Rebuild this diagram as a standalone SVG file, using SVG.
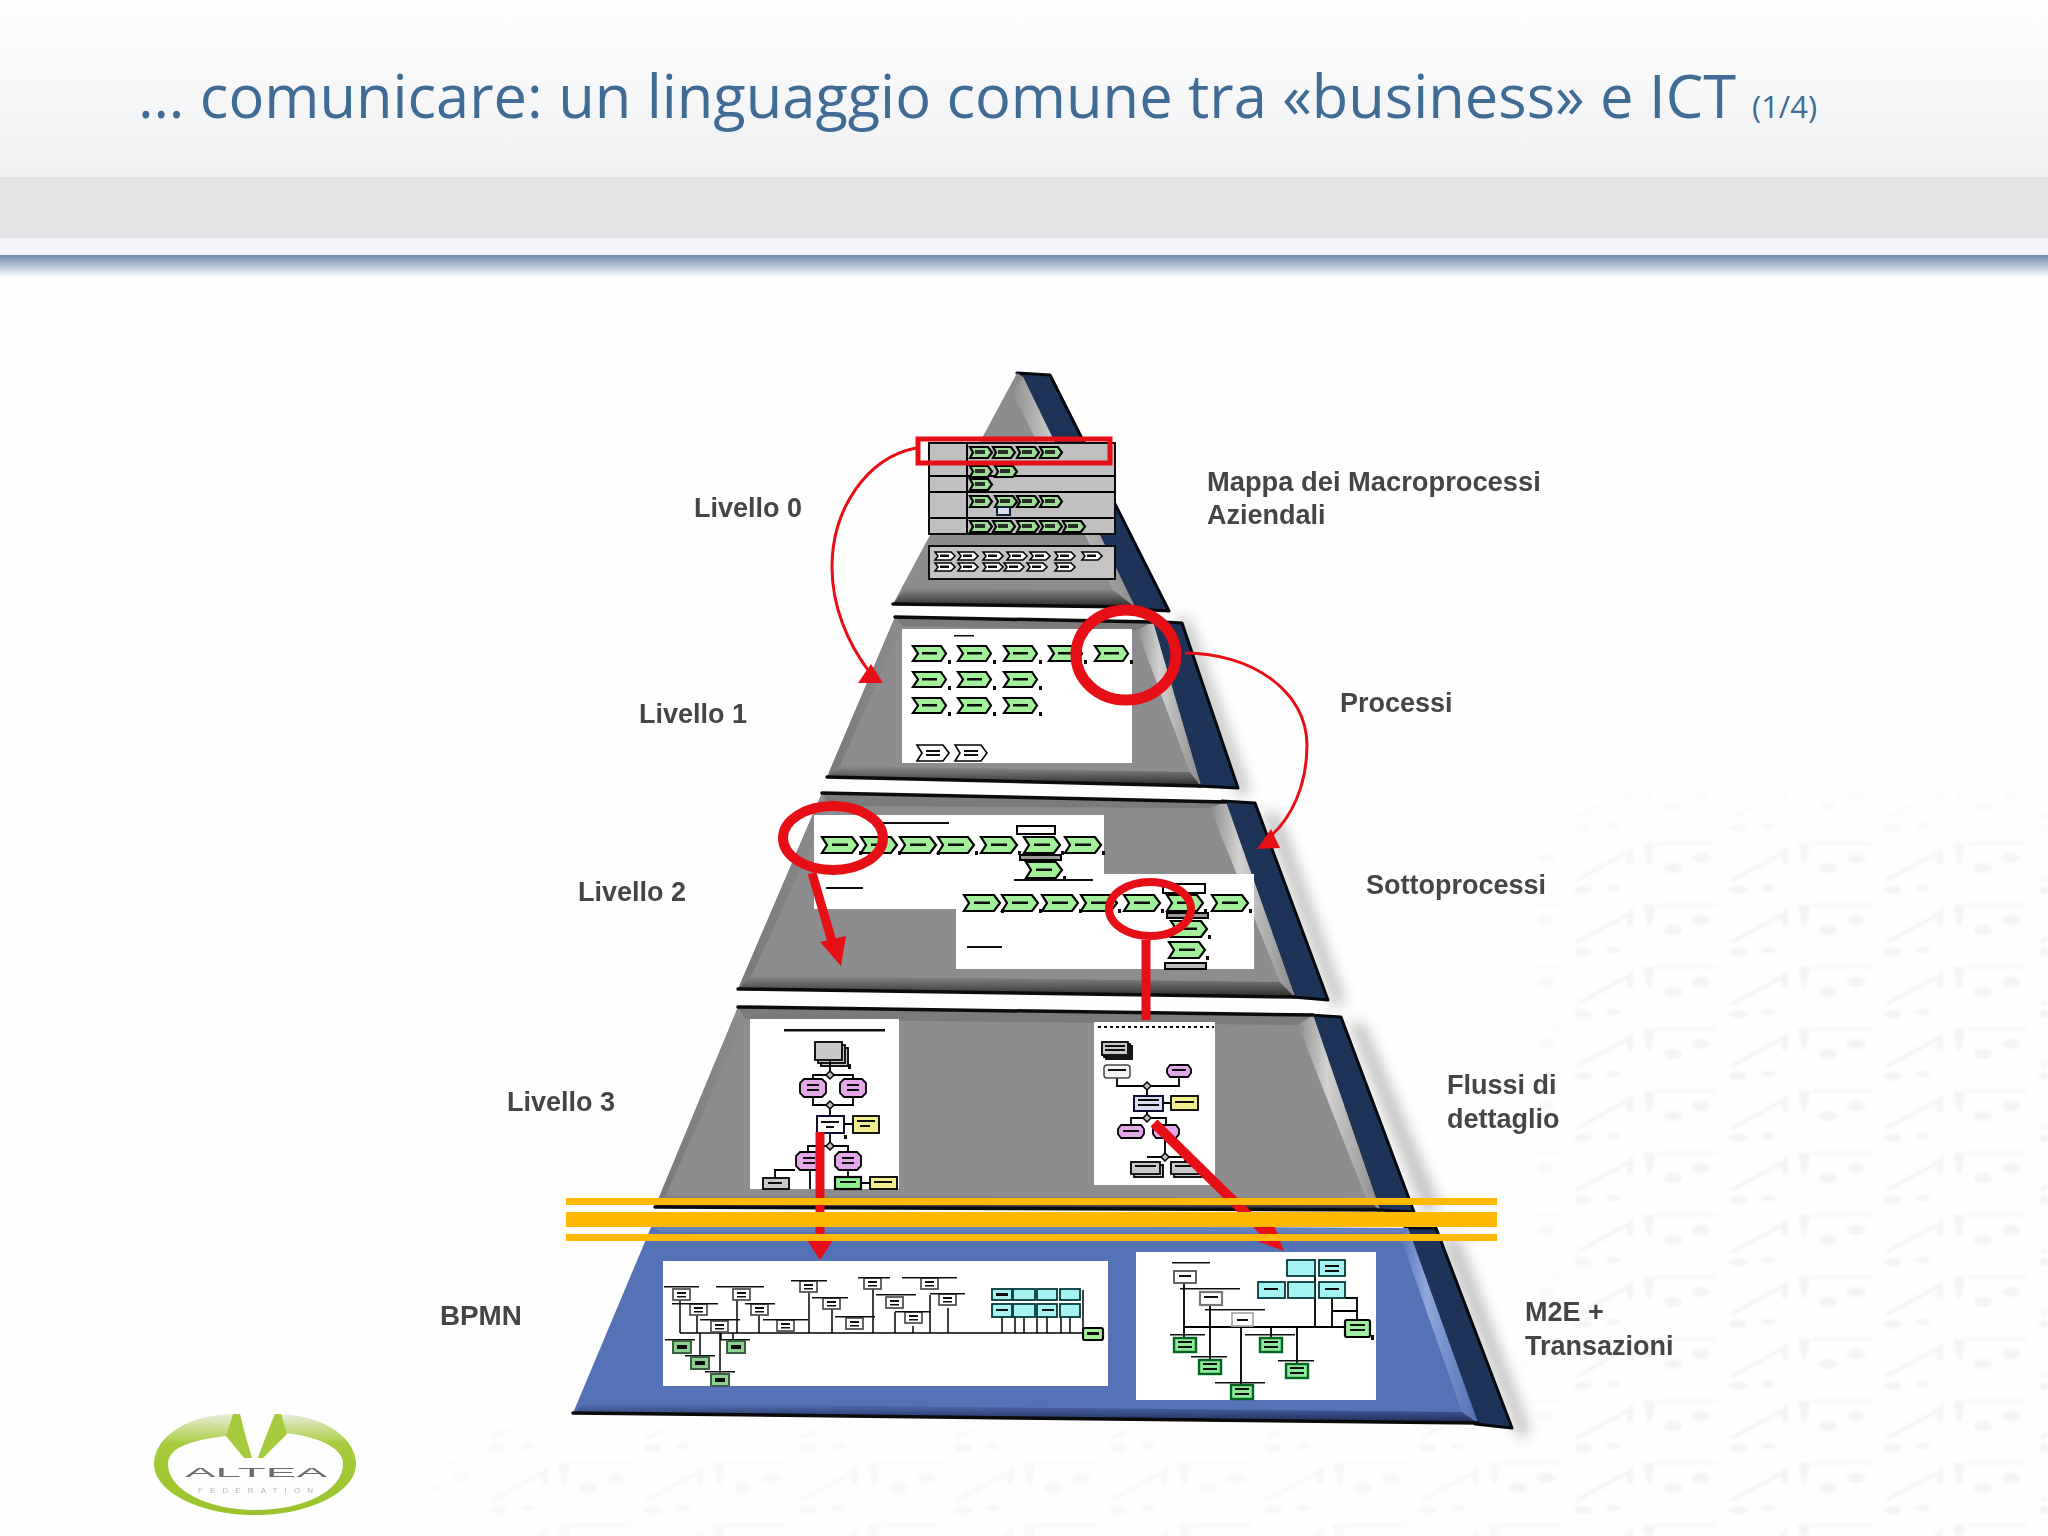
<svg xmlns="http://www.w3.org/2000/svg" width="2048" height="1536" viewBox="0 0 2048 1536">
<style>
.lab{font-family:"Liberation Sans",Arial,sans-serif;font-weight:700;font-size:27px;fill:#454545}
.ttl{font-family:"Open Sans","Noto Sans",sans-serif;fill:#3f6b94}
.dk{fill:#1e3358;stroke:#06080f;stroke-width:3;stroke-linejoin:round}
.bevB{fill:url(#gB)}.bevL{fill:url(#gL)}.bevT{fill:#7b7b7d}.bevR{fill:url(#gR)}
.face{fill:#8d8d8f}
.edge{fill:none;stroke:#0b0b0b;stroke-width:3.500;stroke-linejoin:round;stroke-linecap:round}
.w{fill:#fff}
.g{fill:#a2f09a;stroke:#000;stroke-width:2.200}
.gw{fill:#fff;stroke:#000;stroke-width:1.600}
.p{fill:#e3a8e8;stroke:#000;stroke-width:1.800}
.y{fill:#f3ef90;stroke:#000;stroke-width:1.800}
.gy{fill:#c8c8c8;stroke:#000;stroke-width:1.800}
.c{fill:#a6f3f3;stroke:#063a3a;stroke-width:1.800}
.n{fill:#fff;stroke:#555;stroke-width:1.800}
.l{fill:none;stroke:#000;stroke-width:1.800}
.d{fill:#111}
.red{fill:none;stroke:#e60f16;stroke-linecap:butt}
.rf{fill:#e60f16}
.yl{fill:#ffb900}
</style>
<defs>
<linearGradient id="gH" x1="0" y1="0" x2="0" y2="1"><stop offset="0" stop-color="#fefefe"/><stop offset="1" stop-color="#eff0f2"/></linearGradient>
<linearGradient id="gS" x1="0" y1="0" x2="0" y2="1"><stop offset="0" stop-color="#6f8aab"/><stop offset="1" stop-color="#f4f7f9"/></linearGradient>
<linearGradient id="gB" x1="0" y1="0" x2="0" y2="1"><stop offset="0" stop-color="#8d8d8f"/><stop offset="1" stop-color="#2a2a2a"/></linearGradient>
<linearGradient id="gL" x1="1" y1="0" x2="0" y2="0"><stop offset="0" stop-color="#8d8d8f"/><stop offset="1" stop-color="#787878"/></linearGradient>
<linearGradient id="gR" x1="0" y1="0" x2="1" y2="0"><stop offset="0" stop-color="#8d8d8f"/><stop offset=".35" stop-color="#d2d2d2"/><stop offset="1" stop-color="#8a8a8c"/></linearGradient>
<linearGradient id="gBb" x1="0" y1="0" x2="0" y2="1"><stop offset="0" stop-color="#5472b6"/><stop offset="1" stop-color="#1b2a55"/></linearGradient>
<linearGradient id="gRb" x1="0" y1="0" x2="1" y2="0"><stop offset="0" stop-color="#5472b6"/><stop offset=".35" stop-color="#8fa8dc"/><stop offset="1" stop-color="#4f6db0"/></linearGradient>
<linearGradient id="gLogo" x1="0" y1="0" x2="0" y2="1"><stop offset="0" stop-color="#e9edd9"/><stop offset=".3" stop-color="#a6cb3c"/><stop offset="1" stop-color="#9cc32c"/></linearGradient>
<linearGradient id="fL" x1="0" y1="0" x2="1" y2="0"><stop offset="0" stop-color="#fefefe"/><stop offset="1" stop-color="#fefefe" stop-opacity="0"/></linearGradient>
<linearGradient id="fT" x1="0" y1="0" x2="0" y2="1"><stop offset="0" stop-color="#fefefe"/><stop offset="1" stop-color="#fefefe" stop-opacity="0"/></linearGradient>
<filter id="sh" x="-20%" y="-20%" width="140%" height="140%"><feGaussianBlur stdDeviation="7"/></filter>
<filter id="sf" x="-5%" y="-5%" width="110%" height="110%"><feGaussianBlur stdDeviation="0.7"/></filter>
<filter id="wm" x="-5%" y="-5%" width="110%" height="110%"><feGaussianBlur stdDeviation="1.600"/></filter>
<pattern id="wmk" x="1573" y="1028" width="155" height="62" patternUnits="userSpaceOnUse">
<g fill="#f3f3f4" stroke="none">
<path d="M2 37L56 8L60 3V22L54 22L54 13L4 40Z"/><path d="M70 1H82L78 22H75Z"/><rect x="84" y="0" width="60" height="2"/>
<ellipse cx="100" cy="26" rx="9" ry="5"/><ellipse cx="128" cy="16" rx="9" ry="5"/><ellipse cx="10" cy="48" rx="9" ry="4"/><ellipse cx="40" cy="46" rx="7" ry="3"/>
</g></pattern>
<g id="ch"><path d="M0 0H28L33 7.5L28 15H0L5 7.5Z" class="g"/><rect x="9" y="6" width="15" height="2.500" class="d"/><rect x="35" y="14" width="3" height="4" class="d"/></g>
<g id="chw"><path d="M0 0H26L32 8L26 16H0L5 8Z" class="gw"/><rect x="9" y="5" width="14" height="2" class="d"/><rect x="9" y="9" width="14" height="2" class="d"/></g>
<g id="cs"><path d="M0 0H18L22 5.500L18 11H0L3 5.500Z" class="g" style="fill:#9fdc98;stroke-width:2.200"/><rect x="5" y="3" width="10" height="4" class="d" opacity=".85"/></g>
<g id="ws"><path d="M0 0H16L20 4L16 8H0L3 4Z" class="gw"/><rect x="5" y="2.500" width="9" height="2.500" class="d"/></g>
<g id="cl"><path d="M0 0H30L36 8L30 16H0L5 8Z" class="g"/><rect x="10" y="6.500" width="16" height="2.500" class="d"/><rect x="37" y="14" width="3" height="4" class="d"/></g>
<g id="hex"><path d="M4 0H22L26 4V14L22 18H4L0 14V4Z" class="p"/><rect x="7" y="5" width="12" height="2" class="d"/><rect x="7" y="10" width="12" height="2" class="d"/></g>
<g id="dm"><path d="M0 -4L4 0L0 4L-4 0Z" fill="#bbb" stroke="#000" stroke-width="1.500"/></g>
<g id="bb"><rect x="0" y="0" width="17" height="11" class="n"/><rect x="4" y="3" width="9" height="2" class="d"/><rect x="4" y="7" width="9" height="1.500" class="d"/></g>
<g id="gb"><rect x="0" y="0" width="18" height="12" fill="#8ccf90" stroke="#3b5f45" stroke-width="2"/><rect x="4" y="4" width="10" height="4" class="d"/></g>
<g id="gc"><rect x="0" y="0" width="22" height="14" fill="#8ee99a" stroke="#062" stroke-width="2.400"/><rect x="4" y="3" width="14" height="2" class="d"/><rect x="4" y="8" width="14" height="2" class="d"/></g>
</defs>

<rect id="background" width="2048" height="1536" fill="#fefefe"/>
<g id="watermark">
<g filter="url(#wm)">
<rect x="1500" y="770" width="548" height="766" fill="url(#wmk)"/>
<rect x="380" y="1430" width="1120" height="106" fill="url(#wmk)" opacity=".7"/>
</g>
<rect x="1500" y="770" width="548" height="110" fill="url(#fT)"/>
<rect x="1500" y="770" width="100" height="660" fill="url(#fL)"/>
<rect x="380" y="1430" width="160" height="106" fill="url(#fL)"/>
</g>

<g id="header">
<rect x="0" y="0" width="2048" height="177" fill="url(#gH)"/>
<rect x="0" y="177" width="2048" height="61" fill="#e2e4e6"/>
<rect x="0" y="238" width="2048" height="17" fill="#f2f3f6"/>
<rect x="0" y="255" width="2048" height="21" fill="url(#gS)"/>
<text class="ttl" x="138" y="118" font-size="59.600">… comunicare: un linguaggio comune tra «business» e ICT</text>
<text class="ttl" x="1752" y="118" font-size="31">(1/4)</text>
</g>

<g id="shadows" filter="url(#sh)" fill="#9a9a9a" opacity=".6">
<polygon points="1175,615 1190,620 1250,790 1240,800"/>
<polygon points="1262,810 1280,815 1345,1000 1335,1010"/>
<polygon points="1348,1020 1365,1025 1440,1205 1425,1215"/>
<polygon points="1440,1235 1460,1240 1530,1430 1520,1440"/>
</g>

<g id="tier-0">
<polygon class="dk" points="1017,373 1050,375 1169,611 1130,609"/>
<polygon class="face" points="1017,373 1023,377 1135,607 893,604"/>
<polygon class="bevB" points="905,588 1115,590 1135,607 893,604"/>
<polygon class="bevR" points="1012,393 1023,377 1135,607 1113,590"/>
<path class="edge" d="M893 604L1135 607"/>
<g filter="url(#sf)">
<rect x="929" y="443" width="186" height="91" fill="#c0c0c0" stroke="#111" stroke-width="2"/>
<path class="l" d="M967 443V534M929 476H1115M929 492H1115M929 518H1115" style="stroke-width:2"/>
<use href="#cs" x="970" y="447"/><use href="#cs" x="993" y="447"/><use href="#cs" x="1017" y="447"/><use href="#cs" x="1040" y="447"/>
<use href="#cs" x="970" y="466"/><use href="#cs" x="995" y="466"/>
<use href="#cs" x="970" y="479"/>
<use href="#cs" x="970" y="496"/><use href="#cs" x="995" y="496"/><use href="#cs" x="1017" y="496"/><use href="#cs" x="1040" y="496"/>
<rect x="997" y="507" width="13" height="8" fill="#dde" stroke="#123" stroke-width="2"/>
<use href="#cs" x="970" y="521"/><use href="#cs" x="993" y="521"/><use href="#cs" x="1017" y="521"/><use href="#cs" x="1040" y="521"/><use href="#cs" x="1063" y="521"/>
<rect x="929" y="546" width="186" height="33" fill="#c4c4c4" stroke="#111" stroke-width="2"/>
<use href="#ws" x="935" y="552"/><use href="#ws" x="958" y="552"/><use href="#ws" x="983" y="552"/><use href="#ws" x="1007" y="552"/><use href="#ws" x="1030" y="552"/><use href="#ws" x="1055" y="552"/><use href="#ws" x="1082" y="552"/>
<use href="#ws" x="935" y="563"/><use href="#ws" x="958" y="563"/><use href="#ws" x="983" y="563"/><use href="#ws" x="1004" y="563"/><use href="#ws" x="1027" y="563"/><use href="#ws" x="1055" y="563"/>
</g>
</g>

<g id="tier-1">
<polygon class="dk" points="1150,621 1182,623 1238,788 1198,786"/>
<polygon class="face" points="895,617 1153,622 1201,786 827,777"/>
<polygon class="bevT" points="895,617 1153,622 1137,630 902,626"/>
<polygon class="bevL" points="895,617 902,626 840,766 827,777"/>
<polygon class="bevB" points="840,766 1190,772 1201,786 827,777"/>
<polygon class="bevR" points="1137,630 1153,622 1201,786 1190,772"/>
<path class="edge" d="M895 617L1153 622M827 777L1201 786"/>
<g filter="url(#sf)">
<rect class="w" x="902" y="629" width="230" height="134"/>
<rect class="d" x="954" y="635" width="20" height="1.500"/>
<use href="#ch" x="913" y="646"/><use href="#ch" x="958" y="646"/><use href="#ch" x="1004" y="646"/><use href="#ch" x="1049" y="646"/><use href="#ch" x="1095" y="646"/>
<use href="#ch" x="913" y="672"/><use href="#ch" x="958" y="672"/><use href="#ch" x="1004" y="672"/>
<use href="#ch" x="913" y="698"/><use href="#ch" x="958" y="698"/><use href="#ch" x="1004" y="698"/>
<use href="#chw" x="917" y="745"/><use href="#chw" x="955" y="745"/>
</g>
</g>

<g id="tier-2">
<polygon class="dk" points="1222,801 1255,803 1328,1000 1293,997"/>
<polygon class="face" points="822,793 1226,802 1295,997 738,989"/>
<polygon class="bevT" points="822,793 1226,802 1210,808 830,806"/>
<polygon class="bevL" points="822,793 830,806 752,975 738,989"/>
<polygon class="bevB" points="752,975 1280,982 1295,997 738,989"/>
<polygon class="bevR" points="1210,808 1226,802 1295,997 1280,982"/>
<path class="edge" d="M822 793L1226 802M738 989L1295 997"/>
<g filter="url(#sf)">
<path class="w" d="M814 815H1104V874H1254V969H956V909H814Z"/>
<rect class="d" x="883" y="822" width="66" height="2"/>
<use href="#cl" x="822" y="837"/><use href="#cl" x="861" y="837"/><use href="#cl" x="900" y="837"/><use href="#cl" x="938" y="837"/><use href="#cl" x="981" y="837"/><use href="#cl" x="1024" y="837"/><use href="#cl" x="1065" y="837"/>
<rect x="1017" y="826" width="38" height="8" fill="#fff" stroke="#000" stroke-width="2"/>
<rect x="1020" y="855" width="41" height="5" fill="#999" stroke="#000" stroke-width="2"/>
<use href="#cl" x="1026" y="862"/>
<rect class="d" x="826" y="887" width="37" height="2"/>
<rect class="d" x="1014" y="879" width="79" height="2"/>
<use href="#cl" x="964" y="895"/><use href="#cl" x="1002" y="895"/><use href="#cl" x="1042" y="895"/><use href="#cl" x="1081" y="895"/><use href="#cl" x="1124" y="895"/><use href="#cl" x="1167" y="895"/><use href="#cl" x="1212" y="895"/>
<rect x="1163" y="884" width="42" height="9" fill="#fff" stroke="#000" stroke-width="2"/>
<rect x="1167" y="913" width="41" height="5" fill="#999" stroke="#000" stroke-width="2"/>
<use href="#cl" x="1171" y="921"/><use href="#cl" x="1169" y="942"/>
<rect x="1165" y="963" width="41" height="6" fill="#bbb" stroke="#000" stroke-width="2"/>
<rect class="d" x="967" y="946" width="35" height="2"/>
</g>
</g>

<g id="tier-3">
<polygon class="dk" points="1310,1015 1341,1017 1414,1212 1378,1210"/>
<polygon class="face" points="738,1007 1313,1015 1380,1210 655,1207"/>
<polygon class="bevT" points="738,1007 1313,1015 1298,1025 745,1019"/>
<polygon class="bevL" points="738,1007 745,1019 666,1195 655,1207"/>
<polygon class="bevB" points="666,1195 1366,1198 1380,1210 655,1207"/>
<polygon class="bevR" points="1298,1025 1313,1015 1380,1210 1366,1198"/>
<path class="edge" d="M738 1007L1313 1015M655 1207L1380 1210"/>
<g filter="url(#sf)">
<rect class="w" x="750" y="1019" width="149" height="170"/>
<rect class="d" x="784" y="1029" width="101" height="2.500"/>
<rect x="821" y="1048" width="27" height="18" class="gy"/><rect x="818" y="1045" width="27" height="18" class="gy"/><rect x="815" y="1042" width="27" height="18" class="gy"/>
<rect class="d" x="848" y="1064" width="3" height="5"/>
<path class="l" d="M813 1087V1075H853V1087M813 1098V1105H853V1098M830 1105V1116M830 1060V1075M830 1133V1146M808 1152V1146H848V1152M775 1178V1170H795M844 1124H853M848 1168V1177M861 1183H870M810 1168V1189"/>
<use href="#dm" x="830" y="1075"/><use href="#dm" x="830" y="1105"/><use href="#dm" x="830" y="1146"/>
<use href="#hex" x="800" y="1079"/><use href="#hex" x="840" y="1079"/>
<rect x="817" y="1116" width="27" height="17" fill="#fff" stroke="#113" stroke-width="2"/><rect class="d" x="821" y="1121" width="18" height="2"/><rect class="d" x="826" y="1126" width="8" height="2"/>
<rect x="853" y="1116" width="26" height="17" class="y"/><rect class="d" x="857" y="1120" width="18" height="2"/><rect class="d" x="860" y="1125" width="10" height="2"/>
<rect class="d" x="844" y="1135" width="3" height="4"/>
<use href="#hex" x="796" y="1152"/><use href="#hex" x="835" y="1152"/>
<rect x="763" y="1178" width="26" height="11" class="gy"/><rect class="d" x="768" y="1182" width="14" height="2"/>
<rect x="835" y="1177" width="26" height="12" class="g" style="fill:#8ff090"/><rect class="d" x="840" y="1181" width="16" height="2"/>
<rect x="870" y="1177" width="27" height="12" class="y"/><rect class="d" x="874" y="1181" width="18" height="2"/>
<rect class="w" x="1094" y="1022" width="121" height="163"/>
<path class="d" stroke="#111" stroke-width="2" stroke-dasharray="3 3" d="M1098 1027H1214"/>
<path class="l" d="M1117 1078V1086H1179V1077M1147 1086V1096M1147 1111V1118M1131 1125V1118H1166V1125M1163 1103H1171M1165 1138V1157M1147 1157H1185V1162"/>
<rect x="1106" y="1046" width="26" height="13" class="gy"/><rect x="1104" y="1044" width="26" height="13" class="gy"/><rect x="1102" y="1042" width="26" height="13" class="gy"/><rect class="d" x="1105" y="1045" width="20" height="2"/><rect class="d" x="1105" y="1049" width="20" height="2"/>
<rect x="1104" y="1065" width="26" height="13" fill="#f4f4f4" stroke="#444" stroke-width="1.500" rx="3"/><rect class="d" x="1108" y="1069" width="18" height="2"/>
<path d="M1170 1065H1188L1191 1069V1073L1188 1077H1170L1167 1073V1069Z" class="p"/><rect class="d" x="1172" y="1069" width="14" height="2"/>
<use href="#dm" x="1147" y="1086"/><use href="#dm" x="1147" y="1118"/><use href="#dm" x="1165" y="1157"/>
<rect x="1134" y="1096" width="29" height="15" fill="#dbe0f0" stroke="#113" stroke-width="2"/><rect class="d" x="1138" y="1099" width="21" height="2"/><rect class="d" x="1138" y="1104" width="21" height="2"/>
<rect x="1171" y="1096" width="27" height="14" class="y"/><rect class="d" x="1175" y="1101" width="19" height="2"/>
<path d="M1121 1125H1141L1144 1129V1134L1141 1138H1121L1118 1134V1129Z" class="p"/><rect class="d" x="1123" y="1130" width="16" height="2"/>
<path d="M1156 1125H1176L1179 1129V1134L1176 1138H1156L1153 1134V1129Z" class="p"/>
<rect x="1134" y="1165" width="29" height="12" class="gy"/><rect x="1131" y="1162" width="29" height="12" class="gy"/><rect class="d" x="1135" y="1165" width="21" height="2"/>
<rect x="1174" y="1165" width="28" height="12" class="gy"/><rect x="1171" y="1162" width="28" height="12" class="gy"/><rect class="d" x="1175" y="1165" width="20" height="2"/>
</g>
</g>

<g id="tier-bpmn">
<polygon class="dk" points="1405,1228 1436,1228 1512,1428 1475,1424"/>
<polygon class="face" style="fill:#5472b6" points="652,1225 1408,1228 1478,1423 573,1413"/>
<polygon style="fill:url(#gBb)" points="585,1403 1462,1412 1478,1423 573,1413"/>
<polygon style="fill:#6680bf" points="652,1225 1408,1228 1399,1233 660,1232"/>
<polygon style="fill:url(#gRb)" points="1399,1233 1408,1228 1478,1423 1462,1412"/>
<path class="edge" d="M573 1413L1478 1423"/>
<g filter="url(#sf)">
<rect class="w" x="663" y="1261" width="445" height="125"/>
<path class="l" d="M680 1333H1083M680 1300V1333M697 1315V1333M720 1327V1375M737 1300V1333M759 1315V1333M809 1287V1333M832 1303V1333M873 1283V1333M895 1312V1333M913 1326V1333M930 1295V1333M948 1308V1333M700 1333V1357M721 1333V1340M733 1333V1341M1002 1317V1333M1015 1317V1333M1024 1317V1333M1037 1317V1333M1047 1317V1333M1061 1317V1333M1070 1317V1333M1083 1290V1333" style="stroke-width:1.500"/>
<g id="bpmn-grey-boxes">
<use href="#bb" x="673" y="1289"/><use href="#bb" x="690" y="1304"/><use href="#bb" x="733" y="1289"/><use href="#bb" x="751" y="1304"/><use href="#bb" x="711" y="1321"/><use href="#bb" x="777" y="1320"/><use href="#bb" x="800" y="1281"/><use href="#bb" x="823" y="1298"/><use href="#bb" x="846" y="1318"/><use href="#bb" x="864" y="1278"/><use href="#bb" x="886" y="1297"/><use href="#bb" x="905" y="1312"/><use href="#bb" x="921" y="1278"/><use href="#bb" x="939" y="1294"/>
</g>
<g class="d">
<rect x="664" y="1286" width="35" height="1.500"/><rect x="716" y="1286" width="48" height="1.500"/><rect x="672" y="1303" width="46" height="1.500"/><rect x="745" y="1303" width="30" height="1.500"/><rect x="700" y="1319" width="40" height="1.500"/><rect x="763" y="1319" width="45" height="1.500"/><rect x="791" y="1280" width="36" height="1.500"/><rect x="812" y="1297" width="36" height="1.500"/><rect x="835" y="1316" width="40" height="1.500"/><rect x="858" y="1277" width="32" height="1.500"/><rect x="876" y="1294" width="40" height="1.500"/><rect x="895" y="1311" width="36" height="1.500"/><rect x="902" y="1277" width="55" height="1.500"/><rect x="930" y="1293" width="35" height="1.500"/>
<rect x="665" y="1339" width="30" height="1.500"/><rect x="720" y="1339" width="30" height="1.500"/><rect x="685" y="1355" width="30" height="1.500"/><rect x="705" y="1371" width="30" height="1.500"/>
</g>
<use href="#gb" x="673" y="1341"/><use href="#gb" x="727" y="1341"/><use href="#gb" x="691" y="1357"/><use href="#gb" x="711" y="1374"/>
<g id="bpmn-cyan">
<rect x="992" y="1289" width="20" height="11" class="c"/><rect x="1013" y="1289" width="22" height="11" class="c"/><rect x="1037" y="1289" width="20" height="11" class="c"/><rect x="1060" y="1289" width="20" height="11" class="c"/>
<rect x="992" y="1304" width="20" height="13" class="c"/><rect x="1013" y="1304" width="22" height="13" class="c"/><rect x="1037" y="1304" width="20" height="13" class="c"/><rect x="1060" y="1304" width="20" height="13" class="c"/>
<rect class="d" x="996" y="1293" width="12" height="3"/><rect class="d" x="996" y="1309" width="12" height="2"/><rect class="d" x="1042" y="1309" width="12" height="2"/>
</g>
<rect x="1083" y="1328" width="20" height="12" class="g" rx="2"/><rect class="d" x="1087" y="1332" width="12" height="3"/>
<rect class="w" x="1136" y="1252" width="240" height="148"/>
<path class="l" d="M1184 1283V1338M1184 1327H1345M1210 1305V1359M1241 1326V1384M1271 1327V1338M1297 1327V1364M1315 1276V1327M1332 1298V1327M1332 1311H1357M1345 1298H1357V1320" style="stroke-width:1.800"/>
<rect x="1287" y="1260" width="28" height="16" class="c"/><rect x="1319" y="1260" width="26" height="16" class="c"/><rect x="1258" y="1282" width="27" height="16" class="c"/><rect x="1288" y="1282" width="27" height="16" class="c"/><rect x="1319" y="1282" width="26" height="16" class="c"/>
<rect class="d" x="1325" y="1265" width="14" height="2"/><rect class="d" x="1325" y="1270" width="14" height="2"/><rect class="d" x="1264" y="1288" width="14" height="2"/><rect class="d" x="1325" y="1288" width="14" height="2"/>
<rect x="1174" y="1271" width="22" height="12" class="n"/><rect class="d" x="1179" y="1275" width="12" height="2"/>
<rect x="1200" y="1292" width="22" height="13" class="n" style="stroke-width:2.200;stroke:#777"/><rect class="d" x="1204" y="1296" width="14" height="2"/>
<rect x="1232" y="1313" width="21" height="13" class="n" style="stroke:#aaa"/><rect class="d" x="1237" y="1319" width="11" height="2"/>
<use href="#gc" x="1174" y="1338"/><use href="#gc" x="1199" y="1360"/><use href="#gc" x="1231" y="1385"/><use href="#gc" x="1260" y="1338"/><use href="#gc" x="1286" y="1364"/>
<rect x="1345" y="1320" width="25" height="17" class="g" rx="2" style="fill:#9feea0"/><rect class="d" x="1350" y="1324" width="15" height="2"/><rect class="d" x="1350" y="1329" width="15" height="2"/><rect class="d" x="1371" y="1335" width="3" height="5"/>
<g class="d">
<rect x="1172" y="1262" width="38" height="1.500"/><rect x="1180" y="1288" width="60" height="1.500"/><rect x="1205" y="1309" width="60" height="1.500"/><rect x="1170" y="1334" width="35" height="1.500"/><rect x="1245" y="1334" width="50" height="1.500"/><rect x="1191" y="1356" width="36" height="1.500"/><rect x="1278" y="1360" width="36" height="1.500"/><rect x="1215" y="1382" width="50" height="1.500"/>
</g>
</g>
</g>

<g id="connectors">
<rect x="918" y="439" width="192" height="24" fill="none" stroke="#e60f16" stroke-width="5"/>
<ellipse class="red" cx="1126" cy="655" rx="50" ry="45" stroke-width="11"/>
<ellipse class="red" cx="833" cy="838" rx="50" ry="32" stroke-width="10"/>
<ellipse class="red" cx="1150" cy="909" rx="41" ry="27" stroke-width="8"/>
<path class="red" stroke-width="3" d="M916 448C866 458 832 510 832 567C832 607 848 643 868 670"/>
<polygon class="rf" points="858,683 883,683 871,664"/>
<path class="red" stroke-width="3" d="M1185 653C1250 653 1307 690 1307 745C1307 788 1290 818 1272 835"/>
<polygon class="rf" points="1257,849 1280,848 1271,829"/>
<path class="red" stroke-width="9" d="M812 873L833 945"/>
<polygon class="rf" points="820,942 846,936 841,966"/>
<path class="red" stroke-width="9" d="M1146 940V1020"/>
<path class="red" stroke-width="9" d="M820 1132V1245"/>
<polygon class="rf" points="807,1240 833,1240 820,1260"/>
<path class="red" stroke-width="10" d="M1154 1123L1265 1232"/>
<polygon class="rf" points="1284,1251 1254,1240 1272,1220"/>
</g>

<g id="separator-lines">
<rect class="yl" x="566" y="1198" width="931" height="7"/>
<rect class="yl" x="566" y="1212" width="931" height="15"/>
<rect class="yl" x="566" y="1234" width="931" height="7"/>
</g>

<g id="labels">
<text class="lab" x="694" y="517">Livello 0</text>
<text class="lab" x="639" y="723">Livello 1</text>
<text class="lab" x="578" y="901">Livello 2</text>
<text class="lab" x="507" y="1111">Livello 3</text>
<text class="lab" x="440" y="1325" style="font-size:27.800px">BPMN</text>
<text class="lab" x="1207" y="491" style="font-size:27.300px">Mappa dei Macroprocessi</text>
<text class="lab" x="1207" y="524">Aziendali</text>
<text class="lab" x="1340" y="712">Processi</text>
<text class="lab" x="1366" y="894">Sottoprocessi</text>
<text class="lab" x="1447" y="1094">Flussi di</text>
<text class="lab" x="1447" y="1128">dettaglio</text>
<text class="lab" x="1525" y="1321">M2E +</text>
<text class="lab" x="1525" y="1355">Transazioni</text>
</g>

<g id="logo">
<path fill="url(#gLogo)" fill-rule="evenodd" d="M154 1464C154 1436 190 1414 234 1414L256 1414L276 1414C320 1414 356 1436 356 1464C356 1492 310 1515 255 1515C200 1515 154 1492 154 1464ZM168 1464C168 1490 208 1510 255 1510C305 1510 343 1490 343 1464C343 1448 320 1436 278 1432L262 1458H247L227 1436C190 1440 168 1448 168 1464Z"/>
<polygon fill="#fefefe" points="238,1412 275,1412 258,1458 252,1458"/>
<polygon fill="#a6cb3c" points="233,1414 240,1414 251,1458 244,1458 226,1436"/>
<polygon fill="#a6cb3c" points="275,1414 281,1414 287,1434 263,1458 258,1458"/>
<text x="185" y="1477" font-family="Liberation Sans,Arial,sans-serif" font-size="13" fill="#6b6b6b" textLength="142" lengthAdjust="spacingAndGlyphs">ALTEA</text>
<text x="198" y="1493" font-family="Liberation Sans,Arial,sans-serif" font-size="8" fill="#b5b5b5" textLength="115" lengthAdjust="spacing">FEDERATION</text>
</g>
</svg>
